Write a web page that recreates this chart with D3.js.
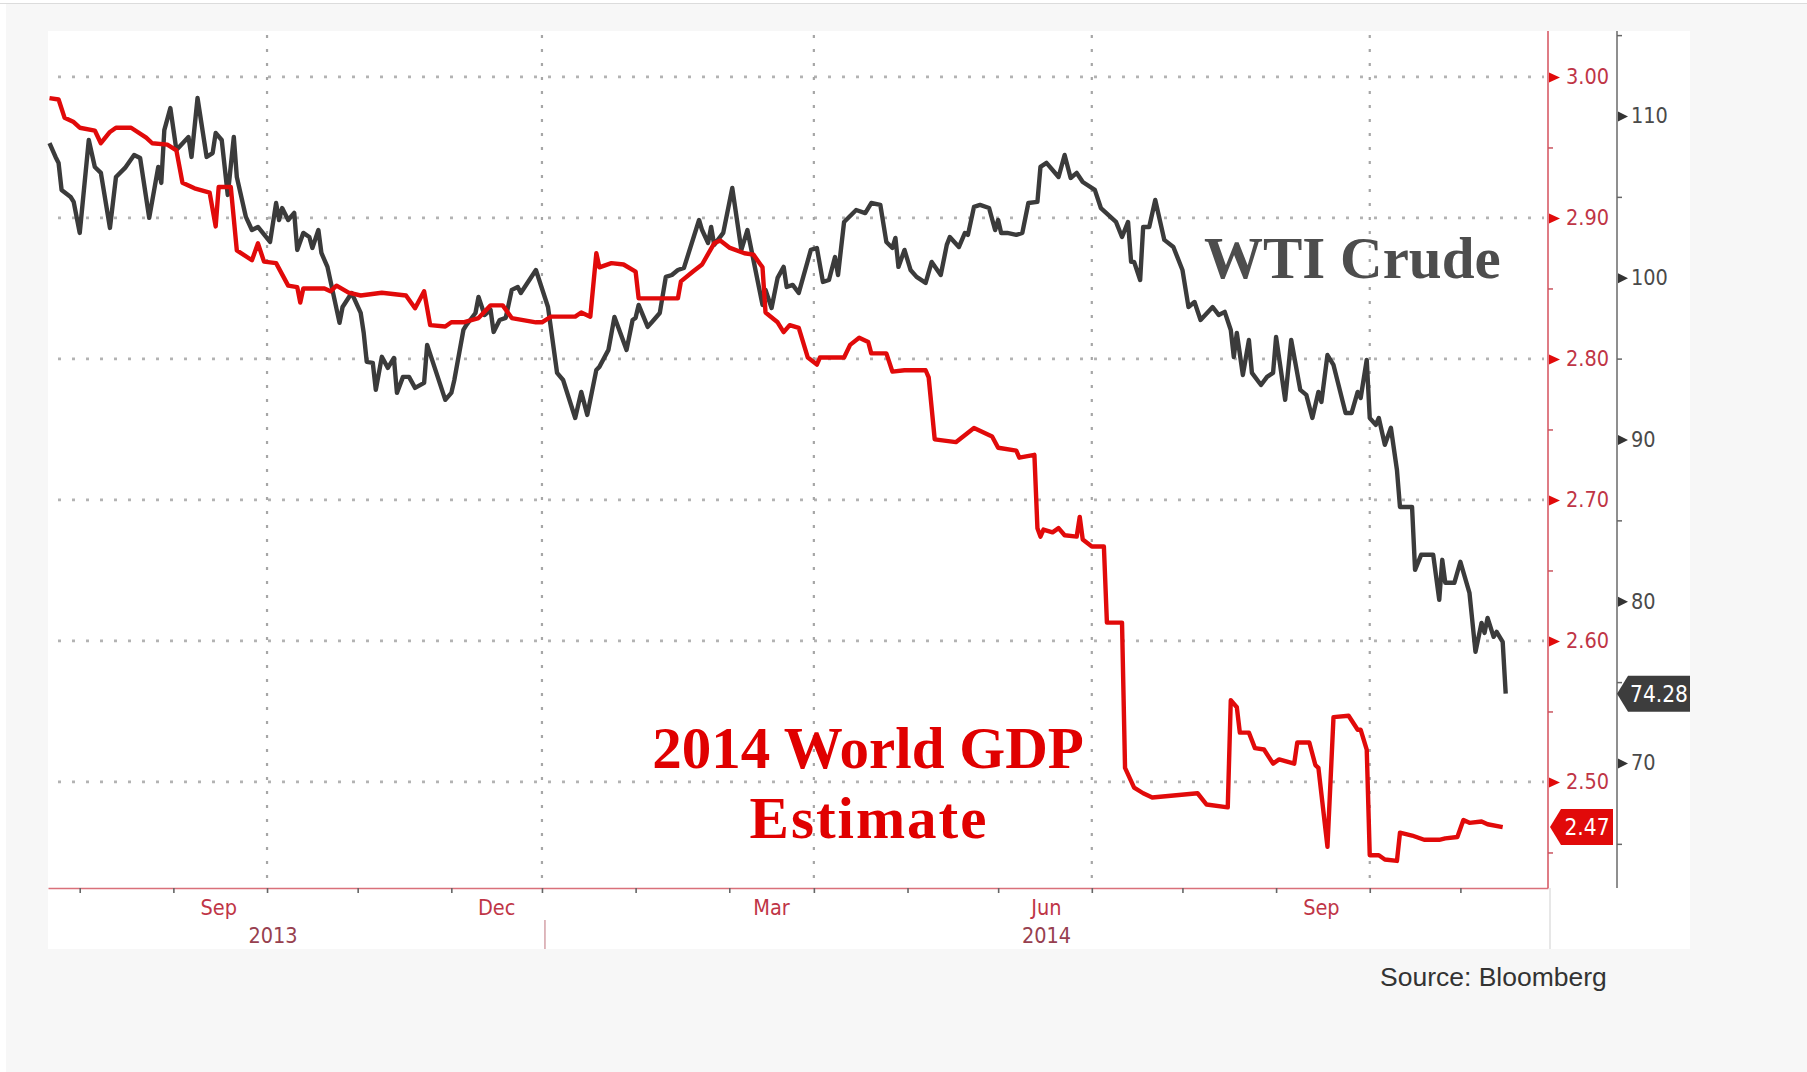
<!DOCTYPE html>
<html>
<head>
<meta charset="utf-8">
<script src="https://cdn.jsdelivr.net/npm/d3@7"></script>
<style>
  body { margin: 0; background: #fff; }
  .axis-label { font-family: "DejaVu Sans Condensed", "DejaVu Sans", sans-serif; font-stretch: condensed; font-size: 21.5px; }
</style>
</head>
<body>
<div id="chart"></div>
<script>
// 2014 World GDP estimate (left/red scale)
const gdpDates = [
  "2013-06-21","2013-06-24","2013-06-26","2013-06-29","2013-07-01","2013-07-06","2013-07-08","2013-07-11","2013-07-13","2013-07-18",
  "2013-07-23","2013-07-25","2013-07-30","2013-08-02","2013-08-04","2013-08-08","2013-08-13","2013-08-15","2013-08-16","2013-08-20",
  "2013-08-22","2013-08-27","2013-08-29","2013-08-31","2013-09-04","2013-09-08","2013-09-11","2013-09-12","2013-09-13","2013-09-20",
  "2013-09-22","2013-09-24","2013-09-28","2013-10-02","2013-10-09","2013-10-17","2013-10-20","2013-10-23","2013-10-25","2013-10-30",
  "2013-11-01","2013-11-05","2013-11-10","2013-11-14","2013-11-18","2013-11-21","2013-11-29","2013-12-01","2013-12-04","2013-12-12",
  "2013-12-14","2013-12-17","2013-12-19","2013-12-20","2013-12-24","2013-12-28","2014-01-01","2014-01-02","2014-01-15","2014-01-16",
  "2014-01-20","2014-01-23","2014-01-27","2014-01-29","2014-02-01","2014-02-06","2014-02-09","2014-02-12","2014-02-13","2014-02-17",
  "2014-02-19","2014-02-21","2014-02-24","2014-02-27","2014-03-02","2014-03-03","2014-03-11","2014-03-13","2014-03-16","2014-03-19",
  "2014-03-20","2014-03-25","2014-03-27","2014-03-31","2014-04-07","2014-04-08","2014-04-10","2014-04-17","2014-04-23","2014-04-26",
  "2014-04-29","2014-05-01","2014-05-07","2014-05-08","2014-05-13","2014-05-14","2014-05-15","2014-05-16","2014-05-19","2014-05-21",
  "2014-05-23","2014-05-27","2014-05-28","2014-05-29","2014-06-01","2014-06-05","2014-06-06","2014-06-11","2014-06-12","2014-06-15",
  "2014-06-18","2014-06-21","2014-07-06","2014-07-09","2014-07-16","2014-07-17","2014-07-19","2014-07-20","2014-07-23","2014-07-25",
  "2014-07-28","2014-07-31","2014-08-02","2014-08-07","2014-08-08","2014-08-12","2014-08-14","2014-08-15","2014-08-18","2014-08-20",
  "2014-08-25","2014-08-28","2014-08-29","2014-08-31","2014-09-01","2014-09-04","2014-09-06","2014-09-10","2014-09-11","2014-09-15",
  "2014-09-19","2014-09-24","2014-09-26","2014-09-30","2014-10-02","2014-10-04","2014-10-08","2014-10-10","2014-10-15"
];
const gdpValues = [
  2.985,2.984,2.971,2.968,2.964,2.962,2.953,2.961,2.964,2.964,
  2.957,2.953,2.952,2.948,2.925,2.921,2.918,2.894,2.922,2.922,
  2.877,2.870,2.882,2.869,2.868,2.852,2.851,2.840,2.850,2.850,
  2.848,2.852,2.847,2.845,2.847,2.845,2.836,2.848,2.824,2.823,
  2.826,2.826,2.829,2.838,2.838,2.829,2.826,2.826,2.830,2.830,
  2.833,2.830,2.875,2.865,2.868,2.867,2.862,2.843,2.843,2.855,
  2.862,2.867,2.882,2.884,2.879,2.875,2.874,2.865,2.833,2.826,
  2.819,2.824,2.822,2.801,2.796,2.801,2.801,2.810,2.815,2.812,
  2.804,2.804,2.791,2.792,2.792,2.787,2.743,2.741,2.751,2.748,
  2.745,2.737,2.735,2.730,2.732,2.680,2.674,2.679,2.677,2.680,
  2.675,2.674,2.688,2.672,2.667,2.667,2.613,2.613,2.510,2.496,
  2.492,2.489,2.492,2.484,2.482,2.558,2.553,2.535,2.535,2.524,
  2.523,2.513,2.516,2.513,2.528,2.528,2.512,2.510,2.454,2.546,
  2.547,2.537,2.537,2.523,2.448,2.448,2.445,2.444,2.464,2.462,
  2.459,2.459,2.460,2.461,2.473,2.471,2.472,2.470,2.468
];

// WTI crude (right/grey scale)
const wtiDates = [
  "2013-06-21","2013-06-23","2013-06-24","2013-06-25","2013-06-28","2013-06-29","2013-07-01","2013-07-04","2013-07-06","2013-07-08",
  "2013-07-11","2013-07-13","2013-07-16","2013-07-19","2013-07-21","2013-07-24","2013-07-27","2013-07-28","2013-07-29","2013-07-31",
  "2013-08-02","2013-08-06","2013-08-07","2013-08-09","2013-08-12","2013-08-14","2013-08-15","2013-08-17","2013-08-19","2013-08-21",
  "2013-08-22","2013-08-25","2013-08-27","2013-08-29","2013-09-02","2013-09-04","2013-09-05","2013-09-06","2013-09-08","2013-09-10",
  "2013-09-11","2013-09-13","2013-09-15","2013-09-16","2013-09-18","2013-09-19","2013-09-21","2013-09-25","2013-09-26","2013-09-29",
  "2013-10-02","2013-10-03","2013-10-04","2013-10-06","2013-10-07","2013-10-09","2013-10-11","2013-10-13","2013-10-14","2013-10-16",
  "2013-10-18","2013-10-20","2013-10-23","2013-10-24","2013-10-30","2013-11-01","2013-11-02","2013-11-05","2013-11-06","2013-11-09",
  "2013-11-10","2013-11-12","2013-11-14","2013-11-15","2013-11-17","2013-11-19","2013-11-21","2013-11-23","2013-11-24","2013-11-29",
  "2013-12-03","2013-12-06","2013-12-08","2013-12-12","2013-12-14","2013-12-16","2013-12-19","2013-12-20","2013-12-23","2013-12-25",
  "2013-12-29","2013-12-31","2014-01-01","2014-01-02","2014-01-05","2014-01-07","2014-01-09","2014-01-11","2014-01-13","2014-01-15",
  "2014-01-17","2014-01-22","2014-01-23","2014-01-25","2014-01-26","2014-01-27","2014-01-30","2014-02-02","2014-02-05","2014-02-07",
  "2014-02-09","2014-02-12","2014-02-13","2014-02-15","2014-02-17","2014-02-19","2014-02-20","2014-02-22","2014-02-24","2014-02-28",
  "2014-03-02","2014-03-04","2014-03-06","2014-03-08","2014-03-09","2014-03-11","2014-03-15","2014-03-18","2014-03-20","2014-03-23",
  "2014-03-25","2014-03-27","2014-03-28","2014-03-29","2014-03-31","2014-04-02","2014-04-04","2014-04-07","2014-04-09","2014-04-12",
  "2014-04-14","2014-04-15","2014-04-18","2014-04-20","2014-04-21","2014-04-23","2014-04-25","2014-04-28","2014-04-30","2014-05-01",
  "2014-05-02","2014-05-04","2014-05-07","2014-05-09","2014-05-11","2014-05-14","2014-05-15","2014-05-17","2014-05-21","2014-05-23",
  "2014-05-25","2014-05-27","2014-05-29","2014-06-02","2014-06-04","2014-06-09","2014-06-11","2014-06-13","2014-06-14","2014-06-15",
  "2014-06-17","2014-06-18","2014-06-20","2014-06-22","2014-06-25","2014-06-28","2014-07-01","2014-07-03","2014-07-05","2014-07-07",
  "2014-07-11","2014-07-13","2014-07-15","2014-07-17","2014-07-18","2014-07-19","2014-07-21","2014-07-23","2014-07-24","2014-07-27",
  "2014-07-29","2014-07-31","2014-08-01","2014-08-04","2014-08-06","2014-08-09","2014-08-11","2014-08-13","2014-08-15","2014-08-16",
  "2014-08-18","2014-08-20","2014-08-24","2014-08-26","2014-08-28","2014-08-29","2014-08-31","2014-09-01","2014-09-03","2014-09-04",
  "2014-09-06","2014-09-08","2014-09-10","2014-09-11","2014-09-15","2014-09-16","2014-09-18","2014-09-22","2014-09-24","2014-09-25",
  "2014-09-26","2014-09-29","2014-10-01","2014-10-04","2014-10-06","2014-10-08","2014-10-09","2014-10-10","2014-10-12","2014-10-13",
  "2014-10-15","2014-10-16"
];
const wtiValues = [
  108.33,107.47,107.10,105.43,104.99,104.69,102.77,108.52,106.85,106.48,
  103.08,106.23,106.79,107.59,107.40,103.70,106.85,105.86,109.13,110.49,
  107.90,108.70,107.47,111.11,107.47,107.71,108.95,108.52,105.12,108.70,
  106.23,103.76,102.95,103.14,102.21,104.62,103.57,104.31,103.57,104.01,
  101.72,102.77,102.52,101.84,102.95,101.53,100.67,97.21,98.19,99.06,
  97.83,96.59,94.80,94.74,93.07,95.11,94.43,95.04,92.88,93.87,
  93.87,93.19,93.50,95.85,92.45,92.88,93.68,96.77,97.08,97.82,
  98.81,97.70,98.01,96.65,97.39,97.52,99.25,99.43,99.06,100.48,
  98.19,94.12,93.68,91.33,92.94,91.52,94.30,94.49,95.54,97.58,
  95.54,97.39,97.52,98.32,96.96,97.39,97.82,100.05,100.17,100.48,
  100.61,103.57,102.95,102.15,103.14,102.03,102.77,105.55,101.72,102.95,
  101.10,98.32,99.25,98.13,99.99,100.67,99.43,99.56,99.06,101.72,
  101.84,99.74,99.86,101.28,100.17,103.45,104.19,104.00,104.62,104.50,
  102.21,101.84,102.46,100.67,101.72,100.48,100.05,99.68,100.98,100.17,
  102.03,102.52,101.90,102.77,102.65,104.38,104.50,104.31,102.95,103.57,
  102.77,102.77,102.65,102.77,104.62,104.69,106.85,107.10,106.23,107.59,
  106.17,106.48,105.92,105.43,104.31,103.45,102.52,103.45,100.98,100.98,
  99.86,103.14,103.14,104.81,102.34,101.90,100.48,98.19,98.50,97.39,
  98.19,97.70,97.89,96.77,95.10,96.59,93.99,96.15,94.12,93.37,
  93.87,94.12,96.34,92.45,96.15,93.07,92.76,91.33,92.94,92.32,
  95.22,94.61,91.64,91.64,92.94,92.57,94.92,91.33,90.90,91.33,
  89.67,90.72,88.12,85.83,85.83,81.94,82.87,82.87,80.09,82.56,
  81.14,81.14,82.44,80.52,76.87,78.66,78.04,78.97,77.80,78.11,
  77.49,74.28
];

// axis ticks and labels
const gdpTicks = [2.50, 2.60, 2.70, 2.80, 2.90, 3.00];
const gdpMinorTicks = [2.45, 2.55, 2.65, 2.75, 2.85, 2.95];
const wtiTicks = [70, 80, 90, 100, 110];
const wtiMinorTicks = [65, 75, 85, 95, 105, 115];
const quarterDates = ["2013-09-01", "2013-12-01", "2014-03-01", "2014-06-01", "2014-09-01"];
const monthLabels = ["Sep", "Dec", "Mar", "Jun", "Sep"];
const monthLabelDates = ["2013-08-16", "2013-11-16", "2014-02-15", "2014-05-17", "2014-08-16"];
const yearLabels = ["2013", "2014"];
const yearLabelDates = ["2013-09-03", "2014-05-17"];

const width = 1807, height = 1072;
const plot = {left: 48, right: 1548, top: 31, bottom: 888};
const panel = {left: 48, right: 1690, top: 31, bottom: 949};
const wtiAxisX = 1617;

const red = "#e10a0a";
const dark = "#3b3b3b";
const labelRed = "#bf3546";

const parseDate = d3.utcParse("%Y-%m-%d");
const gdp = gdpDates.map((d, i) => ({date: parseDate(d), value: gdpValues[i]}));
const wti = wtiDates.map((d, i) => ({date: parseDate(d), value: wtiValues[i]}));

const svg = d3.select("#chart").append("svg")
  .attr("width", width)
  .attr("height", height);

// page background + panel
svg.append("rect").attr("x", 6).attr("y", 4).attr("width", width - 6).attr("height", height - 4).attr("fill", "#f7f7f7");
svg.append("line").attr("x1", 0).attr("x2", width).attr("y1", 3.5).attr("y2", 3.5).attr("stroke", "#dcdcdc");
svg.append("rect")
  .attr("x", panel.left).attr("y", panel.top)
  .attr("width", panel.right - panel.left).attr("height", panel.bottom - panel.top)
  .attr("fill", "#fff");

// scales
const x = d3.scaleUtc()
  .domain([Date.UTC(2013, 5, 20, 12), Date.UTC(2014, 9, 30)])
  .range([plot.left, plot.right]);
const yGdp = d3.scaleLinear().domain([2.4248, 3.0326]).range([plot.bottom, plot.top]);
const yWti = d3.scaleLinear().domain([62.27, 115.255]).range([plot.bottom, plot.top]);

// dotted grid
svg.append("g").selectAll("line")
  .data(gdpTicks)
  .join("line")
  .attr("x1", plot.left + 10).attr("x2", plot.right - 4)
  .attr("y1", d => yGdp(d)).attr("y2", d => yGdp(d))
  .attr("stroke", "#b3b3b3").attr("stroke-width", 2.8)
  .attr("stroke-dasharray", "3,11");
svg.append("g").selectAll("line")
  .data(quarterDates.map(parseDate))
  .join("line")
  .attr("x1", d => x(d)).attr("x2", d => x(d))
  .attr("y1", plot.top + 4).attr("y2", plot.bottom)
  .attr("stroke", "#a6a6a6").attr("stroke-width", 2.2)
  .attr("stroke-dasharray", "3,11");

// x axis
svg.append("g")
  .attr("transform", "translate(0," + plot.bottom + ")")
  .call(d3.axisBottom(x).ticks(d3.utcMonth.every(1)).tickSize(5).tickSizeOuter(0).tickFormat(""))
  .call(g => g.select(".domain").attr("stroke", "#d9707a").attr("stroke-width", 1.6))
  .call(g => g.selectAll(".tick line").attr("stroke", "#666").attr("stroke-width", 1.6));

svg.append("g").selectAll("text")
  .data(monthLabels)
  .join("text")
  .attr("class", "axis-label")
  .attr("x", (d, i) => x(parseDate(monthLabelDates[i])))
  .attr("y", 915)
  .attr("text-anchor", "middle")
  .attr("fill", labelRed)
  .text(d => d);
svg.append("g").selectAll("text")
  .data(yearLabels)
  .join("text")
  .attr("class", "axis-label")
  .attr("x", (d, i) => x(parseDate(yearLabelDates[i])))
  .attr("y", 943)
  .attr("text-anchor", "middle")
  .attr("fill", "#97404f")
  .text(d => d);
// year separator
svg.append("line")
  .attr("x1", x(parseDate(quarterDates[1])) + 3).attr("x2", x(parseDate(quarterDates[1])) + 3)
  .attr("y1", 920).attr("y2", panel.bottom)
  .attr("stroke", "#c98a92").attr("stroke-width", 1.2);

// red (GDP) axis
svg.append("line")
  .attr("x1", plot.right).attr("x2", plot.right)
  .attr("y1", plot.top).attr("y2", plot.bottom)
  .attr("stroke", "#d4505c").attr("stroke-width", 1.5);
svg.append("line")
  .attr("x1", plot.right + 2).attr("x2", plot.right + 2)
  .attr("y1", plot.bottom).attr("y2", panel.bottom)
  .attr("stroke", "#cfcfcf").attr("stroke-width", 1);

const gdpAxis = svg.append("g")
  .attr("transform", "translate(" + plot.right + ",0)")
  .call(d3.axisRight(yGdp).tickValues(gdpTicks).tickSize(0).tickPadding(18).tickFormat(d3.format(".2f")))
  .call(g => g.select(".domain").remove());
gdpAxis.selectAll(".tick text").attr("class", "axis-label").attr("fill", labelRed);
gdpAxis.selectAll(".tick").append("path")
  .attr("d", "M1,-5L12,0L1,5Z")
  .attr("fill", red);
svg.append("g")
  .attr("transform", "translate(" + plot.right + ",0)")
  .call(d3.axisRight(yGdp).tickValues(gdpMinorTicks).tickSize(5).tickFormat(""))
  .call(g => g.select(".domain").remove())
  .call(g => g.selectAll(".tick line").attr("stroke", "#c9545f").attr("stroke-width", 1.5));

// grey (WTI) axis
svg.append("line")
  .attr("x1", wtiAxisX).attr("x2", wtiAxisX)
  .attr("y1", plot.top).attr("y2", plot.bottom)
  .attr("stroke", "#6a6a6a").attr("stroke-width", 1.5);
const wtiAxis = svg.append("g")
  .attr("transform", "translate(" + wtiAxisX + ",0)")
  .call(d3.axisRight(yWti).tickValues(wtiTicks).tickSize(0).tickPadding(14))
  .call(g => g.select(".domain").remove());
wtiAxis.selectAll(".tick text").attr("class", "axis-label").attr("fill", "#4a4a4a");
wtiAxis.selectAll(".tick").append("path")
  .attr("d", "M1,-5L11,0L1,5Z")
  .attr("fill", "#333");
svg.append("g")
  .attr("transform", "translate(" + wtiAxisX + ",0)")
  .call(d3.axisRight(yWti).tickValues(wtiMinorTicks).tickSize(5).tickFormat(""))
  .call(g => g.select(".domain").remove())
  .call(g => g.selectAll(".tick line").attr("stroke", "#666").attr("stroke-width", 1.5));

// lines
const wtiLine = d3.line().x(d => x(d.date)).y(d => yWti(d.value));
const gdpLine = d3.line().x(d => x(d.date)).y(d => yGdp(d.value));

svg.append("path")
  .datum(wti)
  .attr("d", wtiLine)
  .attr("fill", "none")
  .attr("stroke", dark)
  .attr("stroke-width", 4.4)
  .attr("stroke-linejoin", "round");
svg.append("path")
  .datum(gdp)
  .attr("d", gdpLine)
  .attr("fill", "none")
  .attr("stroke", red)
  .attr("stroke-width", 4.4)
  .attr("stroke-linejoin", "round");

// last value tags
function tag(x0, x1, yc, h, fill, label) {
  const g = svg.append("g");
  g.append("path")
    .attr("d", `M${x0},${yc}L${x0 + 11},${yc - h / 2}L${x1},${yc - h / 2}L${x1},${yc + h / 2}L${x0 + 11},${yc + h / 2}Z`)
    .attr("fill", fill);
  g.append("text")
    .attr("class", "axis-label")
    .attr("x", (x0 + 11 + x1) / 2)
    .attr("y", yc)
    .attr("dy", "0.36em")
    .attr("text-anchor", "middle")
    .attr("fill", "#fff")
    .style("font-size", "22.5px")
    .text(label);
}
const lastWti = wti[wti.length - 1];
const lastGdp = gdp[gdp.length - 1];
tag(wtiAxisX, panel.right, yWti(lastWti.value), 36, "#3d3d3d", d3.format(".2f")(lastWti.value));
tag(plot.right + 2, 1613, yGdp(lastGdp.value), 36, red, d3.format(".2f")(lastGdp.value));

// annotations
svg.append("text")
  .attr("x", 1204).attr("y", 278)
  .attr("font-family", "'Liberation Serif', 'Times New Roman', serif")
  .attr("font-weight", "bold")
  .attr("font-size", 59)
  .attr("fill", "#4d4d4d")
  .text("WTI Crude");

const gdpNote = svg.append("text")
  .attr("font-family", "'Liberation Serif', 'Times New Roman', serif")
  .attr("font-weight", "bold")
  .attr("font-size", 59)
  .attr("fill", "#e00000")
  .attr("text-anchor", "middle");
gdpNote.append("tspan").attr("x", 868).attr("y", 768).text("2014 World GDP");
gdpNote.append("tspan").attr("x", 869).attr("y", 838).attr("letter-spacing", 2).text("Estimate");

svg.append("text")
  .attr("x", 1380).attr("y", 986)
  .attr("font-family", "'Liberation Sans', Arial, sans-serif")
  .attr("font-size", 26.5)
  .attr("fill", "#333")
  .text("Source: Bloomberg");
</script>
</body>
</html>
